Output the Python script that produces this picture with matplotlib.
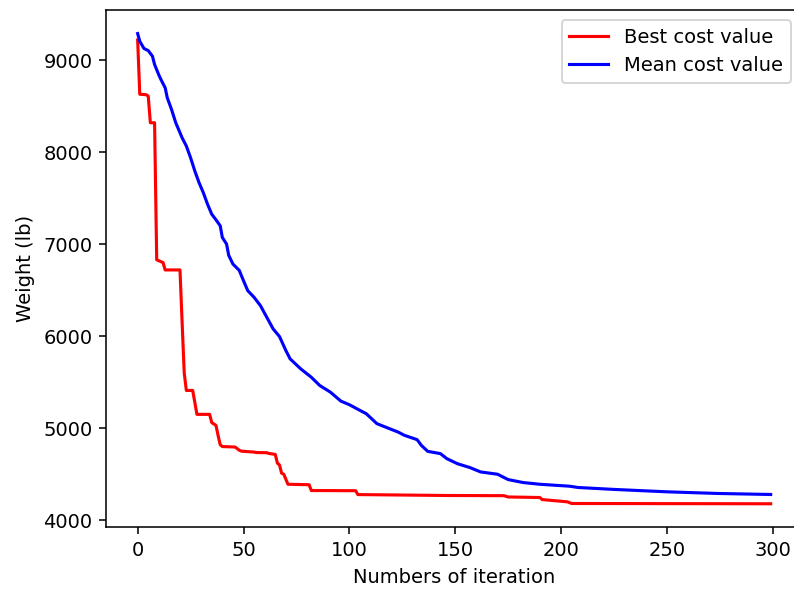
import matplotlib
matplotlib.use("Agg")
import matplotlib.pyplot as plt

# ── Convergence history ─────────────────────────────────────
best_iter = [0, 1, 4, 5, 6, 8, 9, 10, 12, 13, 20, 21, 22, 23, 26, 28, 34, 35,
             37, 38, 39, 40, 46, 48, 49, 55, 56, 61, 62, 65, 66, 67, 68, 69,
             71, 81, 82, 103, 104, 146, 173, 175, 190, 191, 203, 205, 299]
best_cost = [9220, 8630, 8625, 8610, 8320, 8320, 6830, 6820, 6800, 6720, 6720,
             6150, 5600, 5410, 5410, 5150, 5150, 5060, 5030, 4920, 4820, 4800,
             4795, 4760, 4750, 4740, 4735, 4733, 4725, 4715, 4620, 4600, 4510,
             4500, 4390, 4385, 4322, 4320, 4278, 4268, 4266, 4252, 4246, 4224,
             4199, 4181, 4178]

mean_iter = [0, 1, 3, 5, 7, 8, 10, 11, 13, 14, 16, 18, 21, 23, 25, 27, 29, 31,
             33, 35, 37, 39, 40, 42, 43, 45, 48, 50, 52, 55, 58, 61, 64, 67,
             70, 72, 77, 82, 86, 91, 96, 100, 105, 108, 113, 119, 123, 126,
             132, 134, 137, 143, 146, 151, 157, 162, 170, 175, 182, 190, 204,
             208, 225, 250, 274, 299]
mean_cost = [9290, 9206, 9127, 9105, 9043, 8953, 8840, 8790, 8700, 8591, 8465,
             8320, 8157, 8067, 7940, 7796, 7669, 7561, 7435, 7326, 7265, 7200,
             7073, 7001, 6880, 6784, 6715, 6603, 6495, 6422, 6332, 6205, 6079,
             5996, 5844, 5754, 5645, 5554, 5464, 5392, 5294, 5255, 5193, 5157,
             5049, 4994, 4958, 4922, 4875, 4813, 4748, 4723, 4669, 4614, 4571,
             4524, 4499, 4441, 4409, 4390, 4369, 4355, 4334, 4308, 4290, 4279]


DPI = 140
fig = plt.figure(figsize=(794 / DPI, 590 / DPI), dpi=DPI)
ax = fig.add_axes([0.1335, 0.1063, 0.877, 0.8767])

ax.plot(best_iter, best_cost, color="red", lw=1.6, label="Best cost value")
ax.plot(mean_iter, mean_cost, color="blue", lw=1.6, label="Mean cost value")

ax.set_xlabel("Numbers of iteration")
ax.set_ylabel("Weight (lb)")
ax.set_xticks([0, 50, 100, 150, 200, 250, 300])
ax.set_yticks([4000, 5000, 6000, 7000, 8000, 9000])
ax.legend(loc="upper right", bbox_to_anchor=(0.997, 1.0))

fig.savefig("out.png", dpi=DPI)
